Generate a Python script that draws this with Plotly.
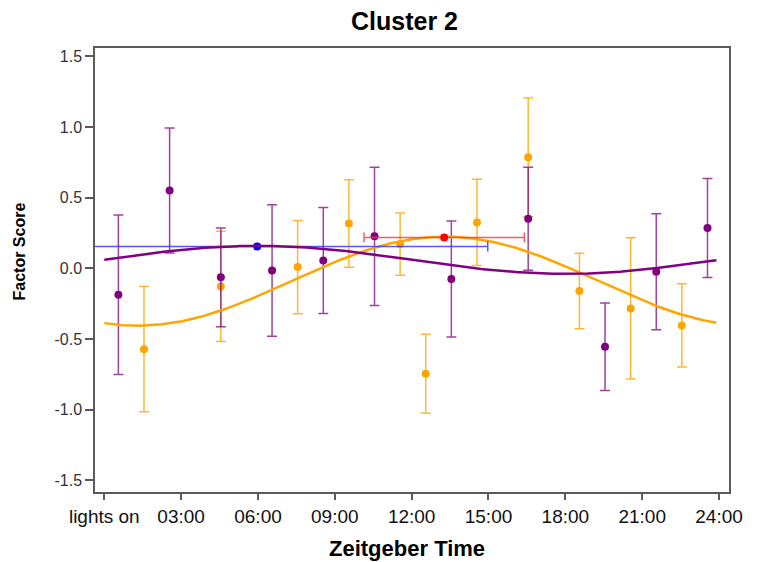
import plotly.graph_objects as go
import numpy as np

# ---- data ----
# purple group (observed means +/- error)
purple_t = [0.55, 2.55, 4.55, 6.55, 8.55, 10.55, 13.55, 16.55, 19.55, 21.55, 23.55]
purple_y = [-0.186, 0.552, -0.063, -0.014, 0.057, 0.227, -0.075, 0.352, -0.554, -0.023, 0.286]
purple_err = [0.565, 0.442, 0.350, 0.465, 0.375, 0.490, 0.410, 0.365, 0.310, 0.410, 0.350]

# orange group
orange_t = [1.55, 4.55, 7.55, 9.55, 11.55, 12.55, 14.55, 16.55, 18.55, 20.55, 22.55]
orange_y = [-0.571, -0.127, 0.010, 0.318, 0.172, -0.745, 0.326, 0.786, -0.160, -0.283, -0.403]
orange_err = [0.443, 0.390, 0.330, 0.310, 0.220, 0.280, 0.305, 0.420, 0.267, 0.500, 0.295]

# cosinor fits: mesor, amplitude, acrophase (h)
purple_fit = dict(mesor=0.061, amp=0.099, acro=6.0)
orange_fit = dict(mesor=-0.090, amp=0.315, acro=13.3)

# acrophase estimates with confidence intervals (hours)
blue_acro, blue_val, blue_ci = 5.97, 0.156, 9.0
red_acro, red_val, red_ci = 13.27, 0.219, 3.13

tick_vals = [0, 3, 6, 9, 12, 15, 18, 21, 24]
tick_text = ["lights on", "03:00", "06:00", "09:00", "12:00", "15:00", "18:00", "21:00", "24:00"]
y_ticks = [-1.5, -1.0, -0.5, 0.0, 0.5, 1.0, 1.5]

PURPLE = "#800080"
ORANGE = "#FFA500"

t_curve = np.linspace(0.0, 23.9, 300)


def cosinor(p, t):
    return p["mesor"] + p["amp"] * np.cos(2 * np.pi * (t - p["acro"]) / 24.0)


fig = go.Figure()

fig.add_trace(go.Scatter(
    x=orange_t, y=orange_y, mode="markers",
    marker=dict(color=ORANGE, size=8),
    error_y=dict(type="data", array=orange_err, color="rgba(255,165,0,0.8)",
                 thickness=1.5, width=5),
    showlegend=False))

fig.add_trace(go.Scatter(
    x=purple_t, y=purple_y, mode="markers",
    marker=dict(color=PURPLE, size=8),
    error_y=dict(type="data", array=purple_err, color="rgba(128,0,128,0.75)",
                 thickness=1.5, width=5),
    showlegend=False))

fig.add_trace(go.Scatter(
    x=t_curve, y=cosinor(orange_fit, t_curve), mode="lines",
    line=dict(color=ORANGE, width=2.5), showlegend=False))

fig.add_trace(go.Scatter(
    x=[blue_acro], y=[blue_val], mode="markers",
    marker=dict(color="#0000FF", size=8),
    error_x=dict(type="data", array=[blue_ci], color="rgba(60,60,255,0.85)",
                 thickness=1.5, width=5),
    showlegend=False))

fig.add_trace(go.Scatter(
    x=t_curve, y=cosinor(purple_fit, t_curve), mode="lines",
    line=dict(color=PURPLE, width=2.5), showlegend=False))

fig.add_trace(go.Scatter(
    x=[red_acro], y=[red_val], mode="markers",
    marker=dict(color="#FF0000", size=8),
    error_x=dict(type="data", array=[red_ci], color="rgba(255,60,60,0.85)",
                 thickness=1.5, width=5),
    showlegend=False))

AXIS_COLOR = "#5a5a5a"
TICK_FONT = "Liberation Sans, Arial, sans-serif"

fig.update_layout(
    width=757, height=562,
    margin=dict(l=95, r=28, t=48, b=70),
    plot_bgcolor="white", paper_bgcolor="white",
    font=dict(family="Liberation Sans, Arial, sans-serif", color="#000000"),
    xaxis=dict(
        range=[-0.363, 24.39], tickmode="array", tickvals=tick_vals, ticktext=tick_text,
        ticks="outside", ticklen=6, tickwidth=1.5, tickcolor=AXIS_COLOR,
        showline=True, linecolor=AXIS_COLOR, linewidth=1.5, mirror=True,
        showgrid=False, zeroline=False,
        tickfont=dict(family=TICK_FONT, size=19, color="#111111"),
    ),
    yaxis=dict(
        range=[-1.582, 1.56], tickmode="array", tickvals=y_ticks,
        ticktext=[f"{v:.1f}" for v in y_ticks],
        ticks="outside", ticklen=8, tickwidth=1.5, tickcolor=AXIS_COLOR,
        showline=True, linecolor=AXIS_COLOR, linewidth=1.5, mirror=True,
        showgrid=False, zeroline=False,
        tickfont=dict(family=TICK_FONT, size=16, color="#333333"),
    ),
    annotations=[
        dict(text="<b>Cluster 2</b>", xref="paper", yref="paper",
             x=(404 - 95) / 634, y=1 + (48 - 21) / 444, xanchor="center", yanchor="middle",
             showarrow=False, font=dict(size=25, color="#000000")),
        dict(text="<b>Zeitgeber Time</b>", xref="paper", yref="paper",
             x=(407 - 95) / 634, y=-(548 - 492) / 444, xanchor="center", yanchor="middle",
             showarrow=False, font=dict(size=22, color="#000000")),
        dict(text="<b>Factor Score</b>", xref="paper", yref="paper",
             x=-(95 - 18.5) / 634, y=(492 - 252) / 444, xanchor="center", yanchor="middle",
             textangle=-90, showarrow=False, font=dict(size=16, color="#000000")),
    ],
)

fig.write_html("out.html")
